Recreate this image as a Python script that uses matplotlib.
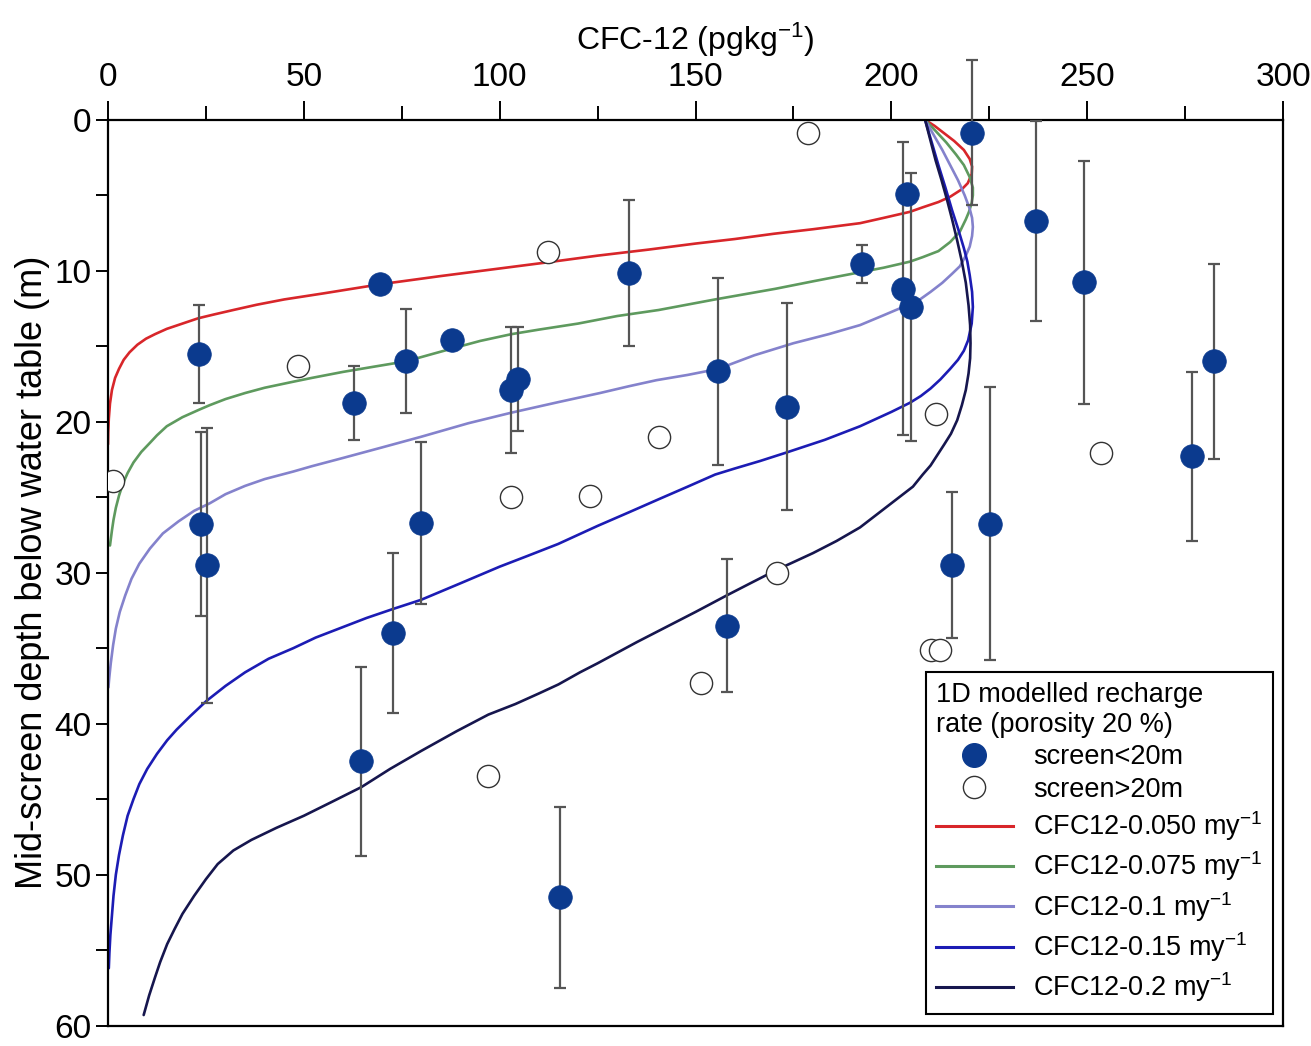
import matplotlib
matplotlib.use('Agg')
import matplotlib.pyplot as plt
from matplotlib.lines import Line2D
from matplotlib.ticker import MultipleLocator

plt.rcParams['font.family'] = ['Liberation Sans', 'DejaVu Sans']
plt.rcParams['mathtext.fontset'] = 'custom'
plt.rcParams['mathtext.rm'] = 'Liberation Sans'
plt.rcParams['mathtext.default'] = 'regular'

# screen < 20 m: CFC-12 (pg/kg), mid-screen depth (m), half screen length (m)
filled_x = [220.7, 204.0, 236.8, 249.1, 192.4, 203.0, 204.9, 155.8, 173.4, 225.2,
            215.5, 276.8, 282.3, 133.0, 69.4, 23.1, 87.8, 76.1, 62.9, 104.6,
            103.0, 23.7, 25.3, 79.9, 72.8, 64.7, 115.3, 158.0]
filled_d = [0.85, 4.9, 6.7, 10.75, 9.55, 11.2, 12.4, 16.65, 19.0, 26.75,
            29.5, 22.3, 16.0, 10.15, 10.9, 15.5, 14.6, 16.0, 18.75, 17.15,
            17.9, 26.8, 29.5, 26.7, 34.0, 42.5, 51.5, 33.5]
filled_err = [4.8, 0, 6.65, 8.05, 1.25, 9.7, 8.9, 6.2, 6.85, 9.05,
              4.85, 5.6, 6.45, 4.85, 0.3, 3.25, 0.3, 3.45, 2.45, 3.45,
              4.15, 6.1, 9.1, 5.35, 5.3, 6.25, 6.0, 4.4]

# screen > 20 m
open_x = [178.7, 112.4, 48.4, 1.3, 140.7, 102.9, 123.0, 211.3, 253.6, 170.8,
          151.4, 210.1, 212.4, 97.1]
open_d = [0.9, 8.75, 16.3, 23.9, 21.0, 25.0, 24.9, 19.5, 22.1, 30.0,
          37.3, 35.1, 35.1, 43.45]

# 1D model curves (CFC-12, depth)
red_x = [208.6, 211, 213.5, 216, 218.5, 220, 220.6, 220.5, 219.5, 218, 215, 212, 208, 204.7,
         198, 192, 180, 170, 160, 150, 138, 125, 112, 100, 85, 69.4, 55, 45, 38, 32, 27, 23,
         19, 15, 12, 9.7, 7.5, 5.5, 4, 2.8, 1.8, 1.0, 0.5, 0.2, 0.05, 0]
red_d = [0, 0.4, 0.9, 1.4, 2.0, 2.6, 3.1, 3.6, 4.2, 4.6, 5.1, 5.45, 5.8, 6.1,
         6.5, 6.85, 7.25, 7.55, 7.9, 8.2, 8.6, 9.0, 9.45, 9.85, 10.35, 10.9, 11.5, 11.9, 12.25,
         12.6, 12.9, 13.15, 13.5, 13.85, 14.2, 14.5, 14.9, 15.4, 15.9, 16.5, 17.1, 17.9, 18.8,
         19.8, 20.7, 21.5]

green_x = [208.6, 211.5, 214, 216.5, 218.5, 220, 220.8, 220.8, 220.5, 219.8, 219, 217.5, 215,
           212, 208, 204.7, 198, 192, 180, 170.3, 155, 140.6, 130, 120, 110, 103, 95, 90, 83,
           76.1, 68, 60, 52, 47.3, 40, 35, 30, 26, 23.3, 19, 15, 12.5, 10.7, 8.5, 6.5, 5, 3.8,
           2.8, 2, 1.4, 1, 0.5]
green_d = [0, 0.8, 1.5, 2.3, 3.0, 3.8, 4.5, 5.0, 5.5, 6.1, 6.6, 7.4, 8.1,
           8.7, 9.1, 9.4, 9.8, 10.1, 10.7, 11.2, 11.9, 12.6, 13.0, 13.5, 13.9, 14.2, 14.65, 15.0,
           15.5, 16.0, 16.35, 16.7, 17.1, 17.35, 17.75, 18.1, 18.5, 18.9, 19.2, 19.7, 20.3, 20.9,
           21.4, 22.0, 22.7, 23.4, 24.1, 24.9, 25.7, 26.5, 27.2, 28.2]

purple_x = [208.6, 211, 213, 215, 217, 218.7, 220, 220.6, 220.8, 220.6, 220, 219, 217.5, 215.5,
            213, 210, 207.3, 203, 198, 192, 184, 175, 165, 155.8, 148, 140, 133, 125.6, 115,
            103, 92, 79.9, 70, 60, 52, 47.3, 40, 35, 30, 26, 22, 18, 14, 10.7, 8, 6, 4.4, 3, 2,
            1.3, 0.7, 0.3, 0.1]
purple_d = [0, 1.1, 2, 3, 4, 5, 5.9, 6.5, 7.1, 7.7, 8.4, 9.0, 9.7, 10.2,
            10.8, 11.4, 11.9, 12.4, 12.95, 13.6, 14.2, 14.8, 15.6, 16.5, 16.9, 17.25, 17.65,
            18.1, 18.7, 19.4, 20.1, 21.0, 21.7, 22.4, 22.95, 23.3, 23.8, 24.25, 24.8, 25.4, 25.9,
            26.6, 27.4, 28.4, 29.4, 30.4, 31.5, 32.6, 33.7, 34.8, 36.0, 37.0, 37.6]

blue_x = [208.6, 210.3, 212, 213.8, 215.5, 217, 218.5, 219.4, 220, 220.6, 220.8, 220.5, 219.6,
          218.5, 217, 215, 212.5, 210, 207.5, 204.7, 200, 192, 183, 173.1, 166.5, 160, 155,
          148, 140.9, 133, 125, 114.9, 107, 100, 90, 79.9, 72.8, 66, 60, 53, 47.3, 41, 35, 30,
          25.1, 21, 17.5, 15.1, 12.5, 10, 8, 6.5, 5, 3.8, 2.8, 2, 1.4, 1.0, 0.6, 0.35, 0.2]
blue_d = [0, 1.5, 3, 4.5, 6, 7.2, 8.5, 9.4, 10.3, 11.4, 12.4, 13.5, 14.6,
          15.3, 15.9, 16.5, 17.2, 17.8, 18.3, 18.75, 19.35, 20.3, 21.2, 22.05, 22.6, 23.1, 23.5,
          24.3, 25.1, 26.0, 26.9, 28.1, 28.9, 29.6, 30.7, 31.8, 32.4, 33.0, 33.6, 34.3, 35.0,
          35.7, 36.6, 37.5, 38.5, 39.5, 40.4, 41.1, 42, 43, 44, 45, 46.1, 47.4, 48.7, 50, 51.4,
          52.7, 54, 55.2, 56.2]

navy_x = [208.6, 210, 211.3, 212.8, 214.2, 215.5, 216.8, 218, 219, 219.7, 220.1, 220.2, 220.1,
          219.7, 219, 218, 216.8, 215.2, 213.5, 211.5, 210, 208, 205.5, 202, 198, 195, 192,
          186, 180, 175, 170.8, 164, 158, 150, 141, 135, 130, 125, 120.5, 115, 110, 104, 97.1,
          89, 80, 72, 64.7, 57, 50, 43, 36.6, 32, 28, 25, 22, 19, 17, 15.1, 13.3, 12, 10.5, 9.1]
navy_d = [0, 1.4, 2.7, 4, 5.3, 6.6, 8.0, 9.4, 10.8, 12.3, 13.6, 14.8, 15.8,
          16.8, 17.9, 18.9, 19.9, 20.8, 21.5, 22.3, 22.9, 23.5, 24.3, 25.0, 25.8, 26.4, 27.0,
          27.9, 28.7, 29.3, 29.8, 30.7, 31.5, 32.6, 33.8, 34.6, 35.3, 36.0, 36.6, 37.4, 38.0,
          38.7, 39.4, 40.5, 41.8, 43.0, 44.2, 45.2, 46.1, 46.9, 47.7, 48.4, 49.3, 50.3, 51.4,
          52.6, 53.6, 54.6, 55.8, 56.8, 58.0, 59.3]

curve_labels = [r'CFC12-0.050 my$^{-1}$', r'CFC12-0.075 my$^{-1}$', r'CFC12-0.1 my$^{-1}$',
                r'CFC12-0.15 my$^{-1}$', r'CFC12-0.2 my$^{-1}$']
curve_colors = ['#d8262a', '#5e9a5e', '#8482cc', '#1c1cb4', '#16164e']

fig = plt.figure(figsize=(13.11, 10.46), dpi=100)
ax = fig.add_axes([0.0824, 0.0195, 0.8963, 0.866])

curves = [(red_x, red_d), (green_x, green_d), (purple_x, purple_d),
          (blue_x, blue_d), (navy_x, navy_d)]
for (cx, cd), col in zip(curves, curve_colors):
    ax.plot(cx, cd, color=col, lw=1.9, zorder=2, solid_joinstyle='round',
            solid_capstyle='round')

# error bars only where there is a screen interval
ex = [x for x, e in zip(filled_x, filled_err) if e > 0]
ed = [d for d, e in zip(filled_d, filled_err) if e > 0]
ee = [e for e in filled_err if e > 0]
ax.errorbar(ex, ed, yerr=ee, fmt='none', ecolor='#555555', elinewidth=1.6,
            capsize=4.2, capthick=1.6, zorder=3, clip_on=False)

ax.plot(open_x, open_d, 'o', ms=16, mfc='white', mec='#333333', mew=1.0, zorder=4)
ax.plot(filled_x, filled_d, 'o', ms=17, mfc='#0b3a8e', mec='#0b3a8e', mew=0.5, zorder=5)

ax.set_xlim(0, 300)
ax.set_ylim(60, 0)
ax.xaxis.tick_top()
ax.xaxis.set_label_position('top')
ax.xaxis.set_major_locator(MultipleLocator(50))
ax.xaxis.set_minor_locator(MultipleLocator(25))
ax.yaxis.set_major_locator(MultipleLocator(10))
ax.yaxis.set_minor_locator(MultipleLocator(5))
ax.tick_params(axis='x', which='major', length=14, width=1.4, labelsize=24, pad=5)
ax.tick_params(axis='x', which='minor', length=10, width=1.4)
ax.tick_params(axis='y', which='both', length=9, width=1.4, labelsize=24, pad=3)
for s in ax.spines.values():
    s.set_linewidth(1.6)

ax.set_xlabel(r'CFC-12 (pgkg$^{-1}$)', fontsize=23, labelpad=9)
ax.set_ylabel('Mid-screen depth below water table (m)', fontsize=26, labelpad=3)

handles = [Line2D([], [], ls='none', marker='o', ms=17, mfc='#0b3a8e', mec='#0b3a8e'),
           Line2D([], [], ls='none', marker='o', ms=16, mfc='white', mec='#333333', mew=1.0)]
handles += [Line2D([], [], color=c, lw=2.2) for c in curve_colors]
labels = ['screen<20m', 'screen>20m'] + curve_labels
leg = ax.legend(handles, labels, title='1D modelled recharge\nrate (porosity 20 %)',
                loc='lower right', bbox_to_anchor=(0.991, 0.013), fontsize=19.5,
                title_fontsize=19.5, alignment='left', fancybox=False, framealpha=1,
                edgecolor='black', handlelength=2.85, handletextpad=0.75,
                labelspacing=0.24, borderpad=0.35, borderaxespad=0)
leg.get_frame().set_linewidth(1.5)

fig.savefig('out.png', dpi=100)
